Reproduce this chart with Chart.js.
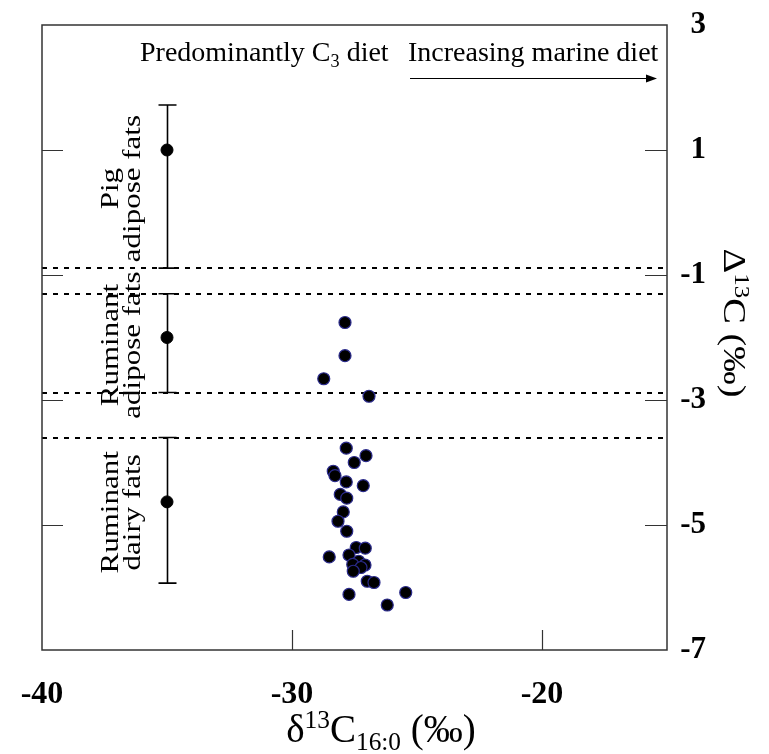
<!DOCTYPE html>
<html>
<head>
<meta charset="utf-8">
<script src="https://cdn.jsdelivr.net/npm/chart.js@4.4.1/dist/chart.umd.min.js"></script>
<style>
  body { margin: 0; background: #fff; }
  canvas { display: block; }
</style>
</head>
<body>
<canvas id="chart" width="769" height="754"></canvas>
<script>
// reference ranges (mean with min/max bar) at fixed x
const refNames = [["Pig", "adipose fats"], ["Ruminant", "adipose fats"], ["Ruminant", "dairy fats"]];
const refX = [-35, -35, -35];
const refMean = [1.0, -2.0, -4.63];
const refHigh = [1.72, -1.3, -3.6];
const refLow = [-0.89, -2.88, -5.93];

// dotted boundaries between the reference ranges
const boundaryY = [-0.89, -1.3, -2.88, -3.6];

// samples
const adiposeX = [-27.88, -27.88, -28.73, -26.92];
const adiposeY = [-1.76, -2.29, -2.66, -2.94];
const dairyX = [-27.83, -27.04, -27.51, -28.35, -28.28, -27.83, -27.15, -28.07, -27.81, -27.95, -28.16, -27.81, -27.43,
  -27.07, -28.51, -27.72, -27.33, -27.57, -27.08, -27.24, -27.55, -26.99, -26.72, -25.45, -27.72, -26.19];
const dairyY = [-3.77, -3.89, -4.0, -4.14, -4.21, -4.31, -4.37, -4.51, -4.57, -4.79, -4.94, -5.1, -5.36,
  -5.37, -5.51, -5.48, -5.58, -5.63, -5.64, -5.68, -5.74, -5.9, -5.92, -6.08, -6.11, -6.28];

// axes
const xTicks = [-40, -30, -20];
const yTicks = [3, 1, -1, -3, -5, -7];
const xInnerTicks = [-30, -20];
const yInnerTicks = [1, -1, -3, -5];

const SERIF = "'Liberation Serif', 'Times New Roman', serif";

function toPoints(xs, ys) {
  return xs.map((x, i) => ({ x: x, y: ys[i] }));
}

// draws text pieces with super/subscripts, returns end x
function drawRich(ctx, parts, x, y, size) {
  parts.forEach((p) => {
    const s = p.mode ? size * 0.65 : size;
    ctx.font = s + "px " + SERIF;
    let dy = 0;
    if (p.mode === "sup") dy = -size * 0.36;
    if (p.mode === "sub") dy = size * 0.2;
    ctx.fillText(p.t, x, y + dy);
    x += ctx.measureText(p.t).width;
  });
  return x;
}

function richWidth(ctx, parts, size) {
  let w = 0;
  parts.forEach((p) => {
    const s = p.mode ? size * 0.65 : size;
    ctx.font = s + "px " + SERIF;
    w += ctx.measureText(p.t).width;
  });
  return w;
}

const decorPlugin = {
  id: "decor",
  beforeDatasetsDraw(chart) {
    const { ctx, chartArea: a, scales } = chart;
    const xs = scales.x, ys = scales.y;
    ctx.save();

    // dotted boundaries
    ctx.strokeStyle = "#000";
    ctx.lineWidth = 2;
    ctx.setLineDash([5, 6]);
    boundaryY.forEach((v) => {
      const py = Math.round(ys.getPixelForValue(v));
      ctx.beginPath();
      ctx.moveTo(a.left, py);
      ctx.lineTo(a.right, py);
      ctx.stroke();
    });
    ctx.setLineDash([]);

    // range bars
    ctx.lineWidth = 1.6;
    refX.forEach((x, i) => {
      const px = Math.round(xs.getPixelForValue(x)) + 0.5;
      const top = ys.getPixelForValue(refHigh[i]);
      const bot = ys.getPixelForValue(refLow[i]);
      ctx.beginPath();
      ctx.moveTo(px, top);
      ctx.lineTo(px, bot);
      ctx.moveTo(px - 9, top);
      ctx.lineTo(px + 9, top);
      ctx.moveTo(px - 9, bot);
      ctx.lineTo(px + 9, bot);
      ctx.stroke();
    });

    // frame
    ctx.strokeStyle = "#333";
    ctx.lineWidth = 1.5;
    ctx.strokeRect(a.left, a.top, a.right - a.left, a.bottom - a.top);

    // inner ticks
    ctx.lineWidth = 1.2;
    ctx.beginPath();
    yInnerTicks.forEach((v) => {
      const py = Math.round(ys.getPixelForValue(v)) + 0.5;
      ctx.moveTo(a.left, py);
      ctx.lineTo(a.left + 21, py);
      ctx.moveTo(a.right, py);
      ctx.lineTo(a.right - 22, py);
    });
    xInnerTicks.forEach((v) => {
      const px = Math.round(xs.getPixelForValue(v)) + 0.5;
      ctx.moveTo(px, a.bottom);
      ctx.lineTo(px, a.bottom - 20);
    });
    ctx.stroke();

    // top annotations
    ctx.fillStyle = "#000";
    ctx.textBaseline = "alphabetic";
    ctx.textAlign = "left";
    drawRich(ctx, [{ t: "Predominantly C" }, { t: "3", mode: "sub" }, { t: " diet" }], 140, 61, 28);
    ctx.font = "28px " + SERIF;
    ctx.fillText("Increasing marine diet", 408, 61);

    // arrow
    ctx.strokeStyle = "#000";
    ctx.lineWidth = 1.2;
    ctx.beginPath();
    ctx.moveTo(410, 78.5);
    ctx.lineTo(648, 78.5);
    ctx.stroke();
    ctx.beginPath();
    ctx.moveTo(657, 78.5);
    ctx.lineTo(646, 74.5);
    ctx.lineTo(646, 82.5);
    ctx.closePath();
    ctx.fill();

    // rotated range labels
    ctx.font = "31px " + SERIF;
    ctx.textAlign = "center";
    refNames.forEach((lines, i) => {
      const cy = (ys.getPixelForValue(refHigh[i]) + ys.getPixelForValue(refLow[i])) / 2;
      ctx.save();
      ctx.translate(118, cy + 2);
      ctx.rotate(-Math.PI / 2);
      ctx.scale(1, 0.8);
      ctx.fillText(lines[0], 0, 0);
      ctx.fillText(lines[1], 0, 27);
      ctx.restore();
    });

    // axis titles
    ctx.textAlign = "left";
    const xTitle = [{ t: "\u03b4" }, { t: "13", mode: "sup" }, { t: "C" }, { t: "16:0", mode: "sub" }, { t: " (\u2030)" }];
    const w = richWidth(ctx, xTitle, 39);
    drawRich(ctx, xTitle, 381 - w / 2, 742, 39);

    const yTitle = [{ t: "\u0394" }, { t: "13", mode: "sup" }, { t: "C (\u2030)" }];
    ctx.save();
    ctx.translate(724, 323);
    ctx.rotate(Math.PI / 2);
    ctx.scale(1.1, 0.9);
    const wy = richWidth(ctx, yTitle, 35);
    drawRich(ctx, yTitle, -wy / 2, 0, 35);
    ctx.restore();

    ctx.restore();
  },
};

new Chart(document.getElementById("chart"), {
  type: "scatter",
  data: {
    datasets: [
      {
        label: "Reference fats",
        data: toPoints(refX, refMean),
        pointRadius: 6,
        backgroundColor: "#000",
        borderColor: "#000",
        borderWidth: 1,
      },
      {
        label: "Adipose samples",
        data: toPoints(adiposeX, adiposeY),
        pointRadius: 6,
        backgroundColor: "#000",
        borderColor: "#2a2a8a",
        borderWidth: 1.2,
      },
      {
        label: "Dairy samples",
        data: toPoints(dairyX, dairyY),
        pointRadius: 6,
        backgroundColor: "#000",
        borderColor: "#2a2a8a",
        borderWidth: 1.2,
      },
    ],
  },
  options: {
    responsive: false,
    animation: false,
    layout: { padding: { left: 42, top: 25, right: 63, bottom: 0 } },
    plugins: { legend: { display: false }, tooltip: { enabled: false } },
    scales: {
      x: {
        type: "linear",
        min: -40,
        max: -15,
        grid: { display: false, drawTicks: false },
        border: { display: false },
        afterBuildTicks: (s) => { s.ticks = xTicks.map((v) => ({ value: v })); },
        afterFit: (s) => { s.height = 104; s.paddingLeft = 0; s.paddingRight = 0; },
        ticks: {
          color: "#000",
          padding: 26,
          maxRotation: 0,
          font: { family: SERIF, size: 32, weight: "bold" },
        },
      },
      y: {
        type: "linear",
        position: "right",
        min: -7,
        max: 3,
        grid: { display: false, drawTicks: false },
        border: { display: false },
        afterBuildTicks: (s) => { s.ticks = yTicks.map((v) => ({ value: v })); },
        afterFit: (s) => { s.width = 39; s.paddingTop = 0; s.paddingBottom = 0; },
        ticks: {
          color: "#000",
          padding: 8,
          crossAlign: "far",
          font: { family: SERIF, size: 31, weight: "bold" },
        },
      },
    },
  },
  plugins: [decorPlugin],
});
</script>
</body>
</html>
